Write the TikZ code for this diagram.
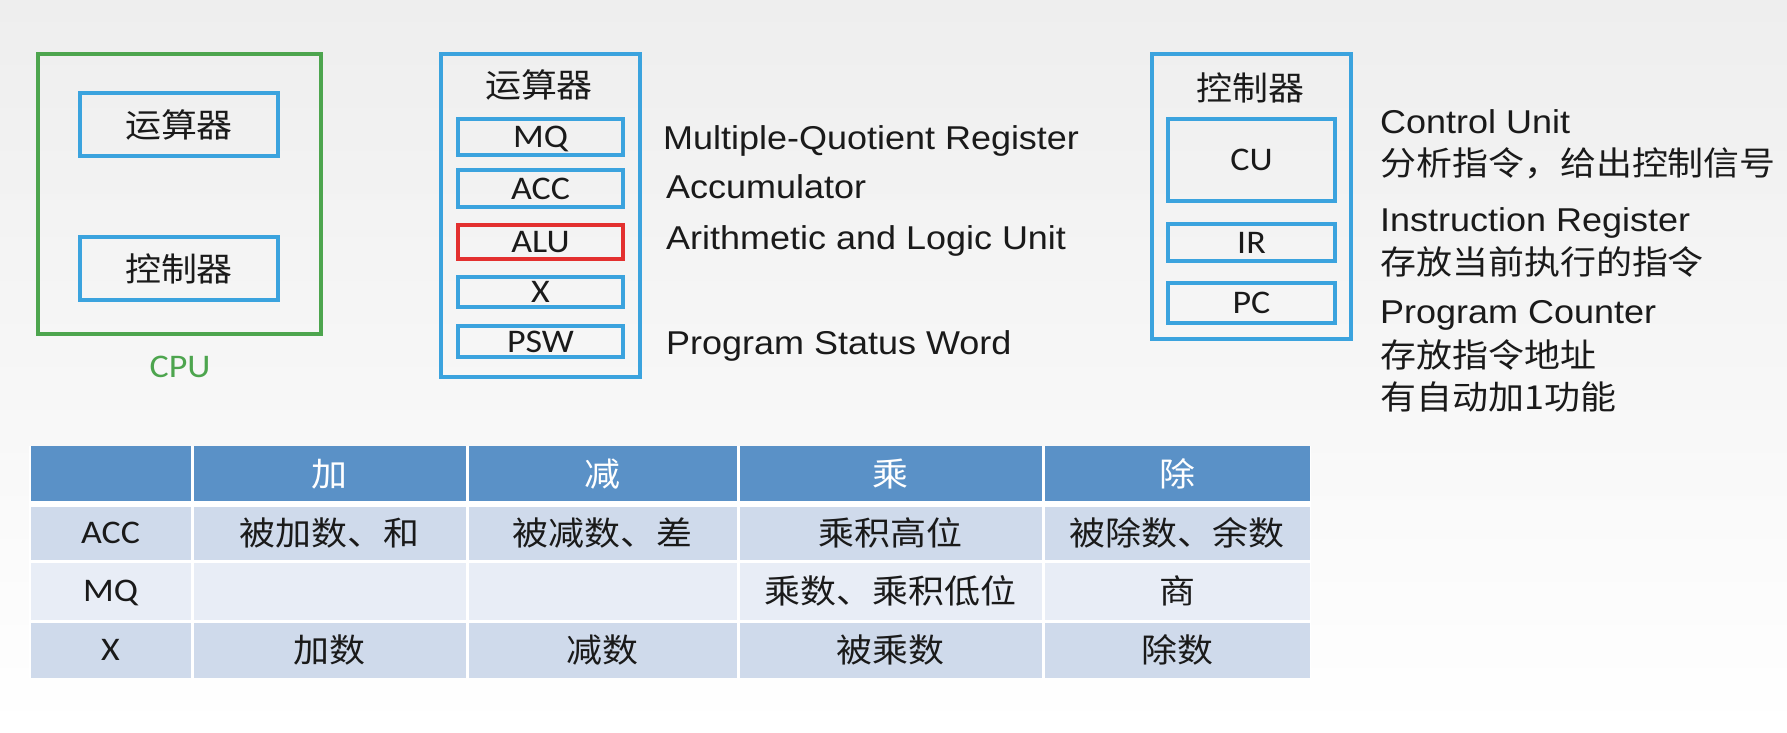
\documentclass[tikz,border=0pt]{standalone}
\usepackage{fontspec}
\setmainfont{Liberation Sans}[FakeStretch=1.09]
\newfontfamily\cjkfont{Noto Sans CJK SC}[FakeStretch=1.09]
\newfontfamily\regfont{Carlito}[FakeStretch=1.09]

\definecolor{bgtop}{HTML}{EEEEEE}
\definecolor{boxblue}{HTML}{3BA3DE}
\definecolor{boxgreen}{HTML}{4DA54E}
\definecolor{boxred}{HTML}{E3302F}
\definecolor{headblue}{HTML}{5A91C7}
\definecolor{rowdark}{HTML}{CFDAEB}
\definecolor{rowlight}{HTML}{E8EDF6}
\definecolor{ink}{HTML}{1A1A1A}

\begin{document}
\begin{tikzpicture}[x=1pt,y=-1pt,
  unitbox/.style={draw=boxblue, line width=4pt, inner sep=0pt, rectangle, text=ink},
  cjk/.style={font=\cjkfont\fontsize{33}{40}\selectfont, text=ink, inner sep=0pt,
              text height=27pt, text depth=2pt},
  reglabel/.style={font=\regfont\fontsize{33}{40}\selectfont, text=ink, inner sep=0pt,
              text height=21pt, text depth=0pt},
  desc/.style={font=\fontsize{33}{40}\selectfont, text=ink, inner sep=0pt,
              text height=23.6pt, text depth=0pt, anchor=west},
  cjkdesc/.style={cjk, anchor=west},
  hcell/.style={fill=headblue, inner sep=0pt, minimum height=55pt, text=white,
              font=\cjkfont\fontsize{33}{40}\selectfont, text height=27pt, text depth=2pt},
  dcell/.style={fill=rowdark, inner sep=0pt, minimum height=52.5pt},
  lcell/.style={fill=rowlight, inner sep=0pt, minimum height=57pt},
  ecell/.style={fill=rowdark, inner sep=0pt, minimum height=55.5pt},
  cjkcell/.style={font=\cjkfont\fontsize{33}{40}\selectfont, text=ink,
              text height=27pt, text depth=2pt},
  latcell/.style={font=\regfont\fontsize{33}{40}\selectfont, text=ink,
              text height=21pt, text depth=0pt},
]
% page and background
\useasboundingbox (0,0) rectangle (1787,732);
\fill[top color=bgtop, bottom color=white] (0,0) rectangle (1787,732);

% ---------- CPU overview ----------
\node[unitbox, draw=boxgreen, minimum width=283pt, minimum height=280pt] (cpu) at (179.5,194) {};
\node[unitbox, minimum width=198pt, minimum height=63pt] (cpualu) at (179,124.5) {};
\node[cjk] (cpualut) at (cpualu) {运算器};
\node[unitbox, minimum width=198pt, minimum height=63pt] (cpucu) at (179,268.5) {};
\node[cjk] (cpucut) at (cpucu) {控制器};
\node[reglabel, text=boxgreen] (cpulabel) at (180,367) {CPU};

% ---------- arithmetic unit ----------
\node[unitbox, minimum width=199pt, minimum height=323pt] (alu) at (540.5,215.5) {};
\node[cjk] (alutitle) at (539,85) {运算器};
\node[unitbox, minimum width=165pt, minimum height=36pt] (mq) at (540.5,137) {};
\node[reglabel] at (mq) {MQ};
\node[unitbox, minimum width=165pt, minimum height=37pt] (acc) at (540.5,188.5) {};
\node[reglabel] at (acc) {ACC};
\node[unitbox, draw=boxred, minimum width=165pt, minimum height=34pt] (alureg) at (540.5,242) {};
\node[reglabel] at (alureg) {ALU};
\node[unitbox, minimum width=165pt, minimum height=30pt] (xreg) at (540.5,292) {};
\node[reglabel] at (xreg) {X};
\node[unitbox, minimum width=165pt, minimum height=31pt] (psw) at (540.5,341.5) {};
\node[reglabel] at (psw) {PSW};

\node[desc] (mqdesc) at (663,138) {Multiple-Quotient Register};
\node[desc] (accdesc) at (666,187) {Accumulator};
\node[desc] (aludesc) at (666,238) {Arithmetic and Logic Unit};
\node[desc] (pswdesc) at (666,343) {Program Status Word};

% ---------- control unit ----------
\node[unitbox, minimum width=199pt, minimum height=285pt] (ctl) at (1251.5,196.5) {};
\node[cjk] (ctltitle) at (1250,88) {控制器};
\node[unitbox, minimum width=167pt, minimum height=82pt] (cu) at (1251.5,160) {};
\node[reglabel] at (cu) {CU};
\node[unitbox, minimum width=167pt, minimum height=37pt] (ir) at (1251.5,242.5) {};
\node[reglabel] at (ir) {IR};
\node[unitbox, minimum width=167pt, minimum height=40pt] (pc) at (1251.5,303) {};
\node[reglabel] at (pc) {PC};

\node[desc] (cudesc) at (1380,122) {Control Unit};
\node[cjkdesc] (cunote) at (1380,163) {分析指令，给出控制信号};
\node[desc] (irdesc) at (1380,220) {Instruction Register};
\node[cjkdesc] (irnote) at (1380,262) {存放当前执行的指令};
\node[desc] (pcdesc) at (1380,312) {Program Counter};
\node[cjkdesc] (pcnote) at (1380,355) {存放指令地址};
\node[cjkdesc] (pcnoteb) at (1380,397) {有自动加1功能};

% ---------- register usage table ----------
\fill[white] (29,446) rectangle (1311,678);
% header row
\node[hcell, minimum width=160pt] (h0) at (110.5,473.5) {};
\node[hcell, minimum width=272pt] (h1) at (329.5,473.5) {加};
\node[hcell, minimum width=268pt] (h2) at (602.5,473.5) {减};
\node[hcell, minimum width=302pt] (h3) at (890.5,473.5) {乘};
\node[hcell, minimum width=265pt] (h4) at (1177,473.5) {除};
% ACC row
\node[dcell, latcell, minimum width=160pt] (a0) at (110.5,533.25) {ACC};
\node[dcell, cjkcell, minimum width=272pt] (a1) at (329.5,533.25) {被加数、和};
\node[dcell, cjkcell, minimum width=268pt] (a2) at (602.5,533.25) {被减数、差};
\node[dcell, cjkcell, minimum width=302pt] (a3) at (890.5,533.25) {乘积高位};
\node[dcell, cjkcell, minimum width=265pt] (a4) at (1177,533.25) {被除数、余数};
% MQ row
\node[lcell, latcell, minimum width=160pt] (m0) at (110.5,591) {MQ};
\node[lcell, minimum width=272pt] (m1) at (329.5,591) {};
\node[lcell, minimum width=268pt] (m2) at (602.5,591) {};
\node[lcell, cjkcell, minimum width=302pt] (m3) at (890.5,591) {乘数、乘积低位};
\node[lcell, cjkcell, minimum width=265pt] (m4) at (1177,591) {商};
% X row
\node[ecell, latcell, minimum width=160pt] (x0) at (110.5,650.25) {X};
\node[ecell, cjkcell, minimum width=272pt] (x1) at (329.5,650.25) {加数};
\node[ecell, cjkcell, minimum width=268pt] (x2) at (602.5,650.25) {减数};
\node[ecell, cjkcell, minimum width=302pt] (x3) at (890.5,650.25) {被乘数};
\node[ecell, cjkcell, minimum width=265pt] (x4) at (1177,650.25) {除数};
\end{tikzpicture}
\end{document}
